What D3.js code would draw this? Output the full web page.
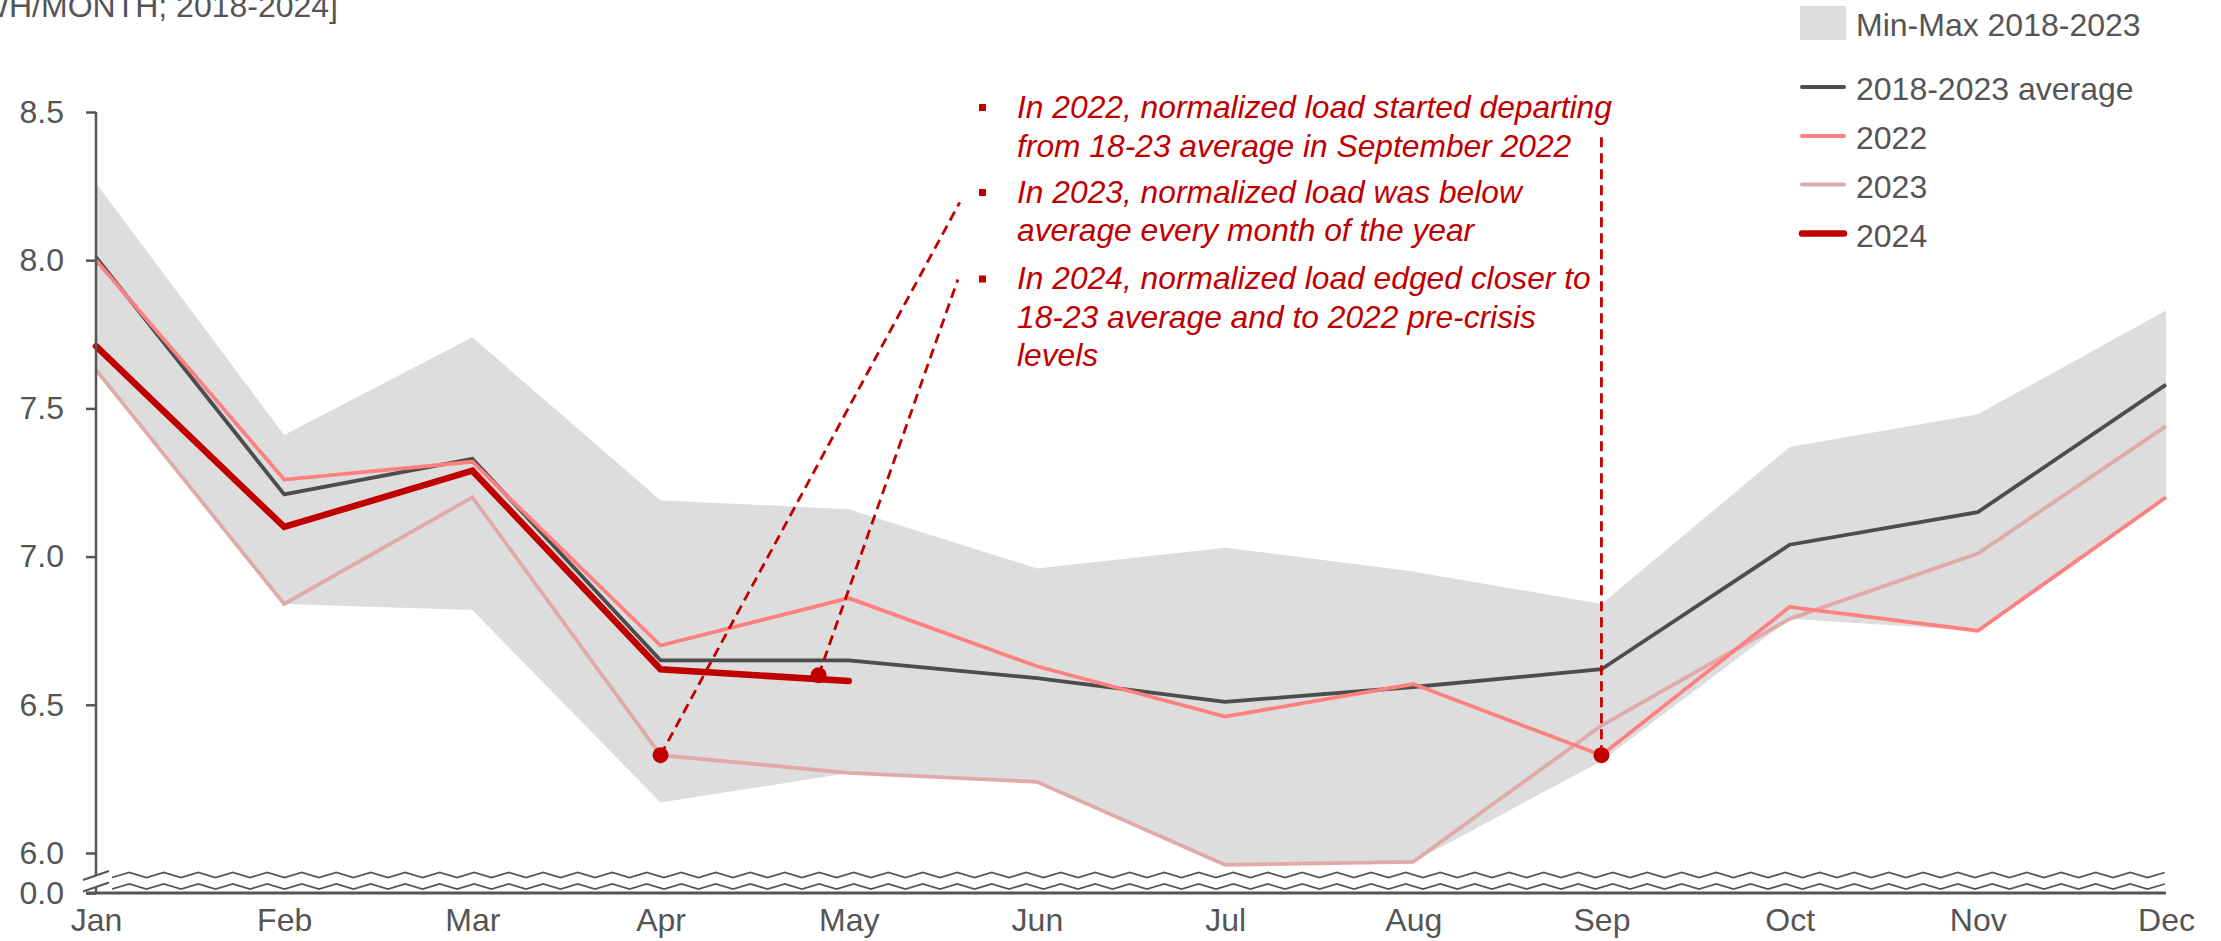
<!DOCTYPE html>
<html>
<head>
<meta charset="utf-8">
<script src="https://cdn.jsdelivr.net/npm/d3@7/dist/d3.min.js"></script>
<style>
  html, body { margin: 0; padding: 0; background: #fff; overflow: hidden; }
  svg { display: block; font-family: "Liberation Sans", Arial, sans-serif; }
</style>
</head>
<body>
<div id="content"></div>
<script>
// values
let months = ['Jan', 'Feb', 'Mar', 'Apr', 'May', 'Jun', 'Jul', 'Aug', 'Sep', 'Oct', 'Nov', 'Dec'];
let bandMax = [8.26, 7.41, 7.74, 7.19, 7.16, 6.96, 7.03, 6.95, 6.84, 7.37, 7.48, 7.83];
let bandMin = [7.63, 6.84, 6.82, 6.17, 6.27, 6.24, 5.96, 5.97, 6.31, 6.79, 6.75, 7.20];
let avg     = [8.01, 7.21, 7.33, 6.65, 6.65, 6.59, 6.51, 6.56, 6.62, 7.04, 7.15, 7.58];
let y2022   = [8.00, 7.26, 7.32, 6.70, 6.86, 6.63, 6.46, 6.57, 6.33, 6.83, 6.75, 7.20];
let y2023   = [7.63, 6.84, 7.20, 6.33, 6.27, 6.24, 5.96, 5.97, 6.43, 6.79, 7.01, 7.44];
let y2024   = [7.71, 7.10, 7.29, 6.62, 6.58];
let yTicks  = [6.0, 6.5, 7.0, 7.5, 8.0, 8.5];

let legendItems = ['Min-Max 2018-2023', '2018-2023 average', '2022', '2023', '2024'];
let notes = [
    ['In 2022, normalized load started departing', 'from 18-23 average in September 2022'],
    ['In 2023, normalized load was below', 'average every month of the year'],
    ['In 2024, normalized load edged closer to', '18-23 average and to 2022 pre-crisis', 'levels']
];
// callout dots (month index, value) and where their leader lines end
let callouts = [
    { at: [3, 6.33], end: [4.59, 8.195] },
    { at: [3.84, 6.60], end: [4.58, 7.935] },
    { at: [8, 6.33], end: [8, 8.415] }
];

window.addEventListener('load', function () {
    let width = 2221;
    let height = 941;
    let axisX = 96;
    let zeroY = 893;
    let grey = '#555';
    let red = '#c00000';
    let tickFont = '32px';

    let x = d3.scaleLinear().domain([0, 11]).range([axisX, 2166]);
    let y = d3.scaleLinear().domain([6, 8.5]).range([853, 112]);
    let yZero = d3.scaleLinear().domain([0, 1]).range([zeroY, zeroY - 40]);

    let svg = d3.select('#content').append('svg').attr('width', width).attr('height', height);

    // unit title, cut by the top-left edge like in the original
    svg.append('text').text('[KWH/MONTH; 2018-2024]')
        .attr('x', 338).attr('y', 17).attr('text-anchor', 'end')
        .style('font-size', '32px').attr('fill', grey);

    // min-max band
    let area = d3.area().x((d, i) => x(i)).y0((d, i) => y(bandMin[i])).y1(d => y(d));
    svg.append('path').datum(bandMax).attr('d', area).attr('fill', '#dddddd');

    let line = d3.line().x((d, i) => x(i)).y(d => y(d));
    svg.append('path').datum(avg).attr('d', line).attr('fill', 'none').attr('stroke', '#4d4d4d').attr('stroke-width', 3.8);
    svg.append('path').datum(y2023).attr('d', line).attr('fill', 'none').attr('stroke', '#e0aaaa').attr('stroke-width', 3.8);
    svg.append('path').datum(y2022).attr('d', line).attr('fill', 'none').attr('stroke', '#ff8080').attr('stroke-width', 3.8);

    // callouts
    callouts.forEach(c => {
        svg.append('line')
            .attr('x1', x(c.at[0])).attr('y1', y(c.at[1]))
            .attr('x2', x(c.end[0])).attr('y2', y(c.end[1]))
            .attr('stroke', red).attr('stroke-width', 2.8).attr('stroke-dasharray', '10,6');
        svg.append('circle').attr('cx', x(c.at[0])).attr('cy', y(c.at[1])).attr('r', 8).attr('fill', red);
    });

    svg.append('path').datum(y2024).attr('d', line).attr('fill', 'none').attr('stroke', red)
        .attr('stroke-width', 6.5).attr('stroke-linecap', 'round');

    // y axis
    let yAxis = d3.axisLeft(y).tickValues(yTicks).tickFormat(d3.format('.1f')).tickSize(10).tickPadding(22);
    let gy = svg.append('g').attr('transform', `translate(${axisX},0)`).call(yAxis);
    let gz = svg.append('g').attr('transform', `translate(${axisX},0)`)
        .call(d3.axisLeft(yZero).tickValues([0]).tickFormat(d3.format('.1f')).tickSize(10).tickPadding(22));
    [gy, gz].forEach(g => {
        g.select('.domain').remove();
        g.selectAll('line').attr('stroke', grey).attr('stroke-width', 2.5);
        g.selectAll('text').style('font-size', tickFont).attr('fill', grey).style('font-family', '"Liberation Sans", Arial, sans-serif');
    });
    svg.append('line').attr('x1', axisX).attr('x2', axisX).attr('y1', y(8.5)).attr('y2', zeroY)
        .attr('stroke', grey).attr('stroke-width', 2.5);

    // x axis
    let xAxis = d3.axisBottom(x).tickValues(d3.range(12)).tickFormat(i => months[i]).tickSize(0).tickPadding(15);
    let gx = svg.append('g').attr('transform', `translate(0,${zeroY})`).call(xAxis);
    gx.select('.domain').remove();
    gx.selectAll('text').style('font-size', tickFont).attr('fill', grey).style('font-family', '"Liberation Sans", Arial, sans-serif');
    svg.append('line').attr('x1', axisX - 10).attr('x2', x(11)).attr('y1', zeroY).attr('y2', zeroY)
        .attr('stroke', grey).attr('stroke-width', 3);

    // axis break: white gap, two zigzags, two slashes
    let breakTop = 875, breakBot = 886.5;
    svg.append('polygon')
        .attr('points', `${axisX - 13},${breakTop + 5} ${axisX + 13},${breakTop - 4} ${axisX + 13},${breakBot - 4} ${axisX - 13},${breakBot + 5}`)
        .attr('fill', '#fff');
    [breakTop, breakBot].forEach(by => {
        let pts = [];
        for (let px = axisX + 16, k = 0; px <= 2181; px += 17.25, k++) {
            pts.push([px, by + (k % 2 ? -2.5 : 2.5)]);
        }
        svg.append('path').attr('d', d3.line()(pts)).attr('fill', 'none').attr('stroke', grey).attr('stroke-width', 1.8);
        svg.append('line').attr('x1', axisX - 13).attr('y1', by + 5).attr('x2', axisX + 13).attr('y2', by - 4)
            .attr('stroke', grey).attr('stroke-width', 2);
    });

    // legend
    let lx = 1800;
    svg.append('rect').attr('x', lx).attr('y', 6).attr('width', 46).attr('height', 34).attr('fill', '#dddddd');
    let legendLines = [
        { c: '#4d4d4d', w: 4, y: 87 },
        { c: '#ff8080', w: 4, y: 136 },
        { c: '#e0aaaa', w: 4, y: 184.5 },
        { c: red, w: 6.5, y: 233.5 }
    ];
    legendLines.forEach(l => {
        svg.append('line').attr('x1', lx + 2).attr('x2', lx + 44).attr('y1', l.y).attr('y2', l.y)
            .attr('stroke', l.c).attr('stroke-width', l.w).attr('stroke-linecap', 'round');
    });
    let legendBase = [36, 100, 149, 198, 247];
    legendItems.forEach((t, i) => {
        svg.append('text').text(t).attr('x', 1856).attr('y', legendBase[i])
            .style('font-size', '32px').attr('fill', grey);
    });

    // notes
    let noteBase = [[118, 157], [203, 241.5], [289.5, 328, 366.5]];
    let noteG = svg.append('g');
    notes.forEach((para, p) => {
        svg.append('rect').attr('x', 979).attr('y', noteBase[p][0] - 14).attr('width', 7).attr('height', 7).attr('fill', red);
        para.forEach((t, j) => {
            noteG.append('text').text(t).attr('x', 0).attr('y', noteBase[p][j])
                .style('font-family', '"Liberation Sans Narrow", "Liberation Sans", Arial, sans-serif')
                .style('font-style', 'italic').style('font-size', '32px').attr('fill', red);
        });
    });
    let firstLen = noteG.select('text').node().getComputedTextLength();
    let sx = 595 / firstLen;
    noteG.attr('transform', `translate(1017,0) scale(${sx},1)`);
});
</script>
</body>
</html>
